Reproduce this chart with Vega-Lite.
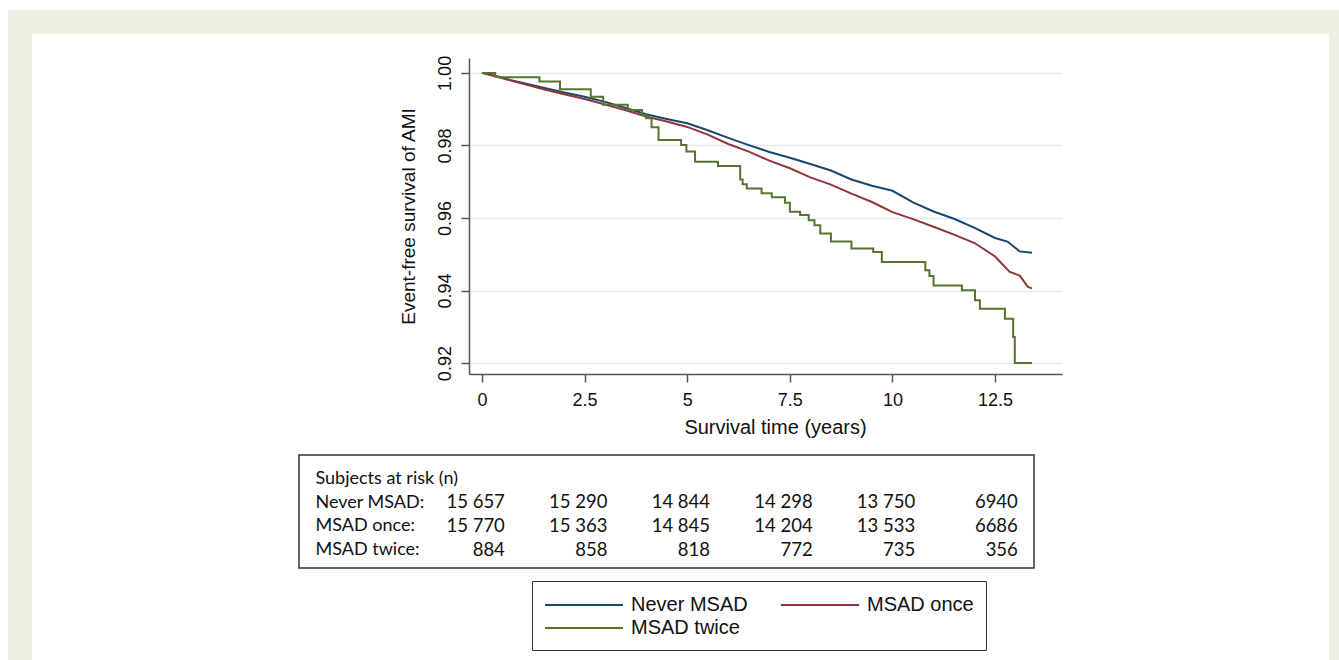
{
  "$schema": "https://vega.github.io/schema/vega-lite/v6.json",
  "background": "white",
  "padding": {"left": 8, "top": 10, "right": 0, "bottom": 0},
  "spacing": 0,
  "config": {"view": {"stroke": null}},
  "datasets": {
    "surv": [
      {"group": "Never MSAD", "t": 0, "s": 1.0},
      {"group": "Never MSAD", "t": 0.3, "s": 0.9992},
      {"group": "Never MSAD", "t": 0.7, "s": 0.998},
      {"group": "Never MSAD", "t": 1, "s": 0.9972},
      {"group": "Never MSAD", "t": 1.5, "s": 0.9959},
      {"group": "Never MSAD", "t": 2, "s": 0.9946},
      {"group": "Never MSAD", "t": 2.5, "s": 0.9934},
      {"group": "Never MSAD", "t": 3, "s": 0.992},
      {"group": "Never MSAD", "t": 3.5, "s": 0.9903},
      {"group": "Never MSAD", "t": 4, "s": 0.9886},
      {"group": "Never MSAD", "t": 4.5, "s": 0.9873},
      {"group": "Never MSAD", "t": 5, "s": 0.9861},
      {"group": "Never MSAD", "t": 5.5, "s": 0.9842},
      {"group": "Never MSAD", "t": 6, "s": 0.9821},
      {"group": "Never MSAD", "t": 6.5, "s": 0.9801},
      {"group": "Never MSAD", "t": 7, "s": 0.9782},
      {"group": "Never MSAD", "t": 7.5, "s": 0.9766},
      {"group": "Never MSAD", "t": 8, "s": 0.9749},
      {"group": "Never MSAD", "t": 8.5, "s": 0.9731},
      {"group": "Never MSAD", "t": 9, "s": 0.9706},
      {"group": "Never MSAD", "t": 9.5, "s": 0.9689},
      {"group": "Never MSAD", "t": 10, "s": 0.9675},
      {"group": "Never MSAD", "t": 10.5, "s": 0.9643},
      {"group": "Never MSAD", "t": 11, "s": 0.9618},
      {"group": "Never MSAD", "t": 11.5, "s": 0.9598},
      {"group": "Never MSAD", "t": 12, "s": 0.9573},
      {"group": "Never MSAD", "t": 12.5, "s": 0.9545},
      {"group": "Never MSAD", "t": 12.8, "s": 0.9535},
      {"group": "Never MSAD", "t": 13.1, "s": 0.9508},
      {"group": "Never MSAD", "t": 13.4, "s": 0.9504},
      {"group": "MSAD once", "t": 0, "s": 1.0},
      {"group": "MSAD once", "t": 0.3, "s": 0.9991},
      {"group": "MSAD once", "t": 0.7, "s": 0.9979},
      {"group": "MSAD once", "t": 1, "s": 0.997},
      {"group": "MSAD once", "t": 1.5, "s": 0.9955},
      {"group": "MSAD once", "t": 2, "s": 0.9941},
      {"group": "MSAD once", "t": 2.5, "s": 0.9928},
      {"group": "MSAD once", "t": 3, "s": 0.9913},
      {"group": "MSAD once", "t": 3.5, "s": 0.9897},
      {"group": "MSAD once", "t": 4, "s": 0.988},
      {"group": "MSAD once", "t": 4.5, "s": 0.9866},
      {"group": "MSAD once", "t": 5, "s": 0.9851},
      {"group": "MSAD once", "t": 5.5, "s": 0.983},
      {"group": "MSAD once", "t": 6, "s": 0.9804},
      {"group": "MSAD once", "t": 6.5, "s": 0.9783},
      {"group": "MSAD once", "t": 7, "s": 0.9758},
      {"group": "MSAD once", "t": 7.5, "s": 0.9737},
      {"group": "MSAD once", "t": 8, "s": 0.9712},
      {"group": "MSAD once", "t": 8.5, "s": 0.9692},
      {"group": "MSAD once", "t": 9, "s": 0.9667},
      {"group": "MSAD once", "t": 9.5, "s": 0.9644},
      {"group": "MSAD once", "t": 10, "s": 0.9616},
      {"group": "MSAD once", "t": 10.5, "s": 0.9597},
      {"group": "MSAD once", "t": 11, "s": 0.9576},
      {"group": "MSAD once", "t": 11.5, "s": 0.9554},
      {"group": "MSAD once", "t": 12, "s": 0.9531},
      {"group": "MSAD once", "t": 12.5, "s": 0.9494},
      {"group": "MSAD once", "t": 12.85, "s": 0.9452},
      {"group": "MSAD once", "t": 13.1, "s": 0.9441},
      {"group": "MSAD once", "t": 13.3, "s": 0.941},
      {"group": "MSAD once", "t": 13.4, "s": 0.9406},
      {"group": "MSAD twice", "t": 0, "s": 1.0},
      {"group": "MSAD twice", "t": 0.32, "s": 0.999},
      {"group": "MSAD twice", "t": 0.4, "s": 0.9988},
      {"group": "MSAD twice", "t": 1.4, "s": 0.9976},
      {"group": "MSAD twice", "t": 1.9, "s": 0.9955},
      {"group": "MSAD twice", "t": 2.65, "s": 0.9934},
      {"group": "MSAD twice", "t": 2.95, "s": 0.9912},
      {"group": "MSAD twice", "t": 3.55, "s": 0.9898},
      {"group": "MSAD twice", "t": 3.9, "s": 0.9884},
      {"group": "MSAD twice", "t": 4.0, "s": 0.9875},
      {"group": "MSAD twice", "t": 4.13, "s": 0.985},
      {"group": "MSAD twice", "t": 4.3, "s": 0.9815},
      {"group": "MSAD twice", "t": 4.85, "s": 0.9801},
      {"group": "MSAD twice", "t": 4.98, "s": 0.9783},
      {"group": "MSAD twice", "t": 5.19, "s": 0.9755},
      {"group": "MSAD twice", "t": 5.75, "s": 0.9743},
      {"group": "MSAD twice", "t": 6.29, "s": 0.9706},
      {"group": "MSAD twice", "t": 6.35, "s": 0.9693},
      {"group": "MSAD twice", "t": 6.45, "s": 0.9681},
      {"group": "MSAD twice", "t": 6.81, "s": 0.9668},
      {"group": "MSAD twice", "t": 7.06, "s": 0.9657},
      {"group": "MSAD twice", "t": 7.38, "s": 0.9642},
      {"group": "MSAD twice", "t": 7.5, "s": 0.9617},
      {"group": "MSAD twice", "t": 7.75, "s": 0.9608},
      {"group": "MSAD twice", "t": 7.96, "s": 0.9594},
      {"group": "MSAD twice", "t": 8.1, "s": 0.958},
      {"group": "MSAD twice", "t": 8.24, "s": 0.9557},
      {"group": "MSAD twice", "t": 8.5, "s": 0.9535},
      {"group": "MSAD twice", "t": 9.0, "s": 0.9516},
      {"group": "MSAD twice", "t": 9.53, "s": 0.9506},
      {"group": "MSAD twice", "t": 9.74, "s": 0.9479},
      {"group": "MSAD twice", "t": 10.8, "s": 0.9456},
      {"group": "MSAD twice", "t": 10.9, "s": 0.944},
      {"group": "MSAD twice", "t": 11.0, "s": 0.9414},
      {"group": "MSAD twice", "t": 11.69, "s": 0.9401},
      {"group": "MSAD twice", "t": 12.01, "s": 0.9373},
      {"group": "MSAD twice", "t": 12.13, "s": 0.935},
      {"group": "MSAD twice", "t": 12.74, "s": 0.9322},
      {"group": "MSAD twice", "t": 12.94, "s": 0.9272},
      {"group": "MSAD twice", "t": 12.98, "s": 0.92},
      {"group": "MSAD twice", "t": 13.4, "s": 0.92}
    ],
    "risk": [
      {"row": "Never MSAD:", "time": 0, "n": "15 657"},
      {"row": "Never MSAD:", "time": 2.5, "n": "15 290"},
      {"row": "Never MSAD:", "time": 5, "n": "14 844"},
      {"row": "Never MSAD:", "time": 7.5, "n": "14 298"},
      {"row": "Never MSAD:", "time": 10, "n": "13 750"},
      {"row": "Never MSAD:", "time": 12.5, "n": "6940"},
      {"row": "MSAD once:", "time": 0, "n": "15 770"},
      {"row": "MSAD once:", "time": 2.5, "n": "15 363"},
      {"row": "MSAD once:", "time": 5, "n": "14 845"},
      {"row": "MSAD once:", "time": 7.5, "n": "14 204"},
      {"row": "MSAD once:", "time": 10, "n": "13 533"},
      {"row": "MSAD once:", "time": 12.5, "n": "6686"},
      {"row": "MSAD twice:", "time": 0, "n": "884"},
      {"row": "MSAD twice:", "time": 2.5, "n": "858"},
      {"row": "MSAD twice:", "time": 5, "n": "818"},
      {"row": "MSAD twice:", "time": 7.5, "n": "772"},
      {"row": "MSAD twice:", "time": 10, "n": "735"},
      {"row": "MSAD twice:", "time": 12.5, "n": "356"}
    ]
  },
  "vconcat": [
    {
      "width": 1331, "height": 24,
      "data": {"values": []},
      "mark": "rect",
      "encoding": {},
      "view": {"fill": "#efefe4", "stroke": null}
    },
    {
      "spacing": 0,
      "hconcat": [
        {
          "width": 24, "height": 626,
          "data": {"values": []},
          "mark": "rect",
          "encoding": {},
          "view": {"fill": "#efefe4", "stroke": null}
        },
        {
          "spacing": 0,
          "vconcat": [
            {
              "width": 1297, "height": 420,
              "view": {"stroke": null},
              "data": {"name": "surv"},
              "layer": [
                {
                  "transform": [{"filter": "datum.group != 'MSAD twice'"}],
                  "mark": {"type": "line", "strokeWidth": 2, "interpolate": "linear"},
                  "encoding": {
                    "x": {"field": "t", "type": "quantitative"},
                    "y": {"field": "s", "type": "quantitative"},
                    "color": {"field": "group", "type": "nominal"}
                  }
                },
                {
                  "transform": [{"filter": "datum.group == 'MSAD twice'"}],
                  "mark": {"type": "line", "strokeWidth": 2, "interpolate": "step-after"},
                  "encoding": {
                    "x": {"field": "t", "type": "quantitative"},
                    "y": {"field": "s", "type": "quantitative"},
                    "color": {"field": "group", "type": "nominal"}
                  }
                }
              ],
              "encoding": {
                "x": {
                  "field": "t", "type": "quantitative",
                  "scale": {"domain": [-0.317, 14.13], "range": [437, 1030], "nice": false, "zero": false},
                  "axis": {
                    "orient": "bottom", "offset": -80,
                    "values": [0, 2.5, 5, 7.5, 10, 12.5],
                    "labelExpr": "format(datum.value, '.1~f')",
                    "title": "Survival time (years)", "titleX": 743, "grid": false,
                    "domainColor": "#555", "domainWidth": 1.5,
                    "tickColor": "#555", "tickWidth": 1.5, "tickSize": 8,
                    "labelFont": "Liberation Sans", "labelFontSize": 18, "labelColor": "#111", "labelPadding": 9,
                    "titleFont": "Liberation Sans", "titleFontSize": 20, "titleFontWeight": "normal", "titleColor": "#111", "titlePadding": 8
                  }
                },
                "y": {
                  "field": "s", "type": "quantitative",
                  "scale": {"domain": [0.917, 1.0041], "range": [340, 24], "nice": false, "zero": false},
                  "axis": {
                    "orient": "left", "offset": -437,
                    "values": [0.92, 0.94, 0.96, 0.98, 1.0], "format": ".2f",
                    "title": "Event-free survival of AMI",
                    "grid": true, "gridColor": "#e1ecf0", "gridWidth": 1.5,
                    "domainColor": "#555", "domainWidth": 1.5,
                    "tickColor": "#555", "tickWidth": 1.5, "tickSize": 8,
                    "labelFont": "Liberation Sans", "labelFontSize": 18, "labelColor": "#111",
                    "labelAngle": -90, "labelAlign": "center", "labelBaseline": "bottom", "labelPadding": 7,
                    "titleFont": "Liberation Sans", "titleFontSize": 19, "titleFontWeight": "normal", "titleColor": "#111", "titlePadding": 18
                  }
                },
                "color": {
                  "field": "group", "type": "nominal",
                  "scale": {"domain": ["Never MSAD", "MSAD once", "MSAD twice"], "range": ["#1a476f", "#90353b", "#55752f"]},
                  "legend": {
                    "orient": "none", "legendX": 524, "legendY": 571,
                    "title": null, "columns": 2, "direction": "horizontal",
                    "symbolType": "M-3.545,0H3.545", "symbolSize": 484, "symbolStrokeWidth": 2, "symbolOffset": 28,
                    "labelFont": "Liberation Sans", "labelFontSize": 20, "labelColor": "#111", "labelOffset": 35, "labelLimit": 300,
                    "columnPadding": 29, "rowPadding": 1, "padding": 12,
                    "strokeColor": "#333"
                  }
                }
              }
            },
            {
              "spacing": 0,
              "hconcat": [
                {
                  "width": 266, "height": 113,
                  "data": {"values": []},
                  "mark": "rect",
                  "encoding": {},
                  "view": {"stroke": null}
                },
                {
                  "width": 735, "height": 113,
                  "view": {"stroke": "#333", "strokeWidth": 1.5},
                  "data": {"name": "risk"},
                  "mark": {"type": "text", "align": "right", "dx": 22, "baseline": "middle", "font": "Lato", "fontSize": 18.5, "color": "#111"},
                  "encoding": {
                    "x": {"field": "time", "type": "quantitative", "scale": {"domain": [-4.48, 13.43], "nice": false, "zero": false}, "axis": null},
                    "y": {
                      "field": "row", "type": "nominal",
                      "scale": {"type": "point", "domain": ["Subjects at risk (n)", "Never MSAD:", "MSAD once:", "MSAD twice:"], "padding": 0.87, "align": 0.56},
                      "axis": {
                        "orient": "left", "offset": -16, "title": null,
                        "domain": false, "ticks": false, "tickSize": 0, "grid": false,
                        "labelPadding": 0, "labelAlign": "left", "labelBaseline": "middle",
                        "labelFont": "Lato", "labelFontSize": 18, "labelColor": "#111", "labelLimit": 300
                      }
                    },
                    "text": {"field": "n"}
                  }
                }
              ]
            }
          ]
        },
        {
          "width": 10, "height": 626,
          "data": {"values": []},
          "mark": "rect",
          "encoding": {},
          "view": {"fill": "#efefe4", "stroke": null}
        }
      ]
    }
  ]
}
